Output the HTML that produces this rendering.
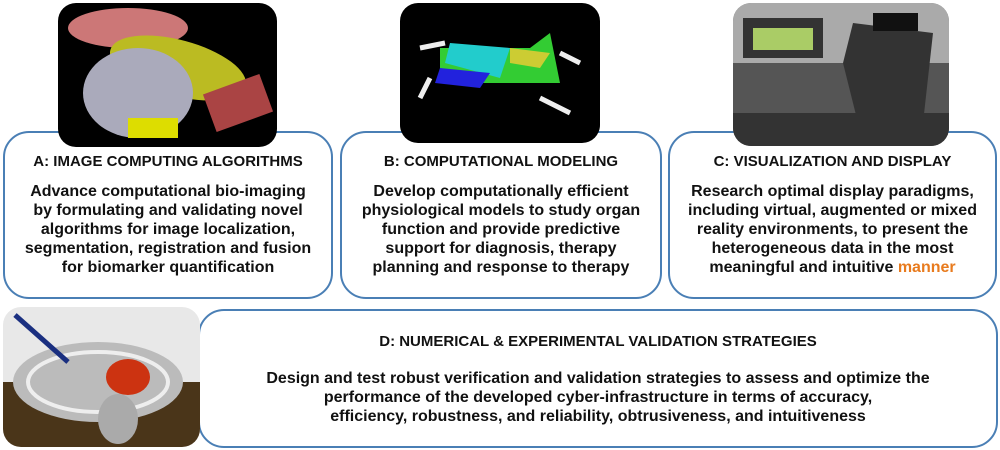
<!DOCTYPE html>
<html><head><style>
body{margin:0;width:1000px;height:450px;background:#fff;position:relative;overflow:hidden;font-family:"Liberation Sans",Arial,sans-serif;font-weight:bold;color:#111}
.box{position:absolute;border:2px solid #4a7fb5;border-radius:26px;box-sizing:border-box;background:#fff}
.img{position:absolute;border-radius:18px;overflow:hidden}
.t{position:absolute;text-align:center;white-space:nowrap;font-size:15px;line-height:19px}
.b{position:absolute;text-align:center;white-space:nowrap;font-size:16px;line-height:19px}
</style></head><body>
<div class="box" style="left:3px;top:131px;width:330px;height:168px"></div>
<div class="box" style="left:340px;top:131px;width:322px;height:168px"></div>
<div class="box" style="left:668px;top:131px;width:329px;height:168px"></div>
<div class="box" style="left:198px;top:309px;width:800px;height:139px"></div>

<div class="img" style="left:58px;top:3px;width:219px;height:144px;background:#000">
<svg width="219" height="144"><ellipse cx="70" cy="25" rx="60" ry="20" fill="#c77"/><ellipse cx="120" cy="65" rx="70" ry="28" fill="#bb2" transform="rotate(15 120 65)"/><ellipse cx="80" cy="90" rx="55" ry="45" fill="#aab"/><rect x="150" y="80" width="60" height="40" fill="#a44" transform="rotate(-20 180 100)"/><rect x="70" y="115" width="50" height="20" fill="#dd0"/></svg></div>
<div class="img" style="left:400px;top:3px;width:200px;height:140px;background:#000">
<svg width="200" height="140"><path d="M40 45 L130 45 L150 30 L160 80 L100 80 L40 80 Z" fill="#3c3"/><path d="M50 40 L110 45 L100 75 L45 60Z" fill="#2cc"/><path d="M40 65 L90 70 L80 85 L35 80Z" fill="#22d"/><path d="M110 45 L150 50 L140 65 L110 60Z" fill="#cc3"/><path d="M20 45 L45 40 M20 95 L30 75 M140 95 L170 110 M160 50 L180 60" stroke="#eee" stroke-width="5"/></svg></div>
<div class="img" style="left:733px;top:3px;width:216px;height:143px;background:#777">
<svg width="216" height="143"><rect width="216" height="143" fill="#aaa"/><rect x="10" y="15" width="80" height="40" fill="#333"/><rect x="20" y="25" width="60" height="22" fill="#ac6"/><rect x="0" y="60" width="216" height="83" fill="#555"/><path d="M120 20 L200 30 L190 120 L130 140 L110 60Z" fill="#333"/><rect x="140" y="10" width="45" height="18" fill="#111"/><rect x="0" y="110" width="216" height="33" fill="#333"/></svg></div>
<div class="img" style="left:3px;top:307px;width:197px;height:140px;background:#e8e8e8">
<svg width="197" height="140"><rect x="0" y="75" width="197" height="65" fill="#4a3519"/><ellipse cx="95" cy="75" rx="85" ry="40" fill="#bbb"/><ellipse cx="95" cy="75" rx="70" ry="30" fill="none" stroke="#eee" stroke-width="4"/><ellipse cx="115" cy="112" rx="20" ry="25" fill="#aaa"/><ellipse cx="125" cy="70" rx="22" ry="18" fill="#c31"/><line x1="12" y1="8" x2="65" y2="55" stroke="#1a2f80" stroke-width="5"/></svg></div>

<div class="t" style="left:3px;width:330px;top:152px">A: IMAGE COMPUTING ALGORITHMS</div>
<div class="b" style="left:3px;width:330px;top:182px">Advance computational bio-imaging<br>by formulating and validating novel<br>algorithms for image localization,<br>segmentation, registration and fusion<br>for biomarker quantification</div>

<div class="t" style="left:340px;width:322px;top:152px">B: COMPUTATIONAL MODELING</div>
<div class="b" style="left:340px;width:322px;top:182px">Develop computationally efficient<br>physiological models to study organ<br>function and provide predictive<br>support for diagnosis, therapy<br>planning and response to therapy</div>

<div class="t" style="left:668px;width:329px;top:152px">C: VISUALIZATION AND DISPLAY</div>
<div class="b" style="left:668px;width:329px;top:182px">Research optimal display paradigms,<br>including virtual, augmented or mixed<br>reality environments, to present the<br>heterogeneous data in the most<br>meaningful and intuitive <span style="color:#e87b1e">manner</span></div>

<div class="t" style="left:198px;width:800px;top:332px">D: NUMERICAL &amp; EXPERIMENTAL VALIDATION STRATEGIES</div>
<div class="b" style="left:198px;width:800px;top:369px">Design and test robust verification and validation strategies to assess and optimize the<br>performance of the developed cyber-infrastructure in terms of accuracy,<br>efficiency, robustness, and reliability, obtrusiveness, and intuitiveness</div>
</body></html>
